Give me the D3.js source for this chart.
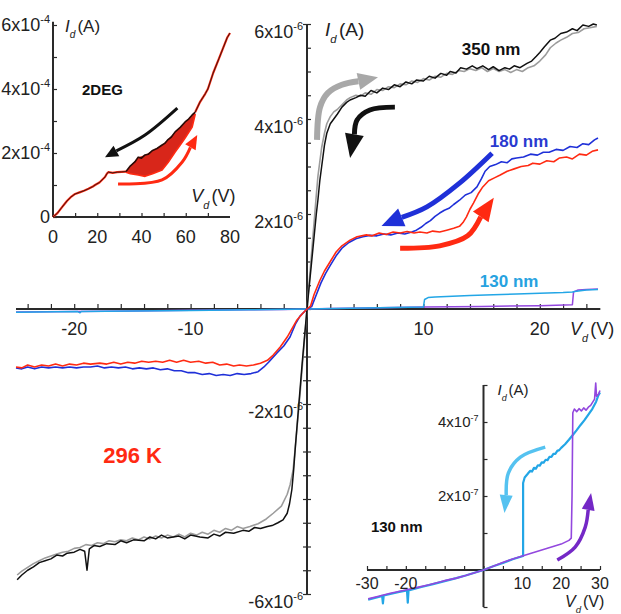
<!DOCTYPE html>
<html>
<head>
<meta charset="utf-8">
<script src="https://cdn.jsdelivr.net/npm/d3@7"></script>
<style>
  html, body { margin: 0; padding: 0; background: #fff; }
  svg { display: block; font-family: "Liberation Sans", Arial, sans-serif; }
</style>
</head>
<body>
<svg id="chart" width="621" height="614"></svg>
<script>
/* ===== Data: main panel (V in volts, I in units of 1e-6 A) ===== */
const black350Pos = [[0,0],[0.2,0.5],[0.4,1.0],[0.6,1.5],[0.8,2.0],[0.94,2.3],[1.1,2.7],[1.26,3.0],[1.5,3.45],[1.7,3.7],[2.0,3.9],[2.3,4.0],[2.6,4.1],[3.0,4.25],[3.4,4.35],[3.7,4.4],[4.2,4.45],[4.6,4.5],[5.0,4.48],[5.5,4.6],[6.0,4.55],[6.5,4.65],[7.0,4.62],[7.5,4.72],[8.0,4.68],[8.5,4.78],[9.0,4.74],[9.4,4.82],[10,4.8],[10.5,4.9],[11,4.86],[11.5,4.96],[12,4.92],[12.3,5.0],[12.8,4.97],[13.2,5.08],[13.7,5.05],[14.2,5.12],[14.6,5.06],[15.1,5.12],[15.6,5.04],[16,5.1],[16.5,5.02],[17,5.08],[17.4,5.05],[17.8,5.12],[18.3,5.08],[18.9,5.17],[19.3,5.22],[19.7,5.32],[20,5.4],[20.4,5.52],[20.9,5.66],[21.3,5.7],[21.8,5.8],[22.3,5.83],[22.8,5.9],[23.2,5.86],[23.7,5.98],[24.2,5.95],[24.6,6.0],[24.9,5.98]];
const gray350Pos = [[0,0],[0.2,0.6],[0.4,1.2],[0.6,1.8],[0.8,2.4],[0.94,2.8],[1.1,3.1],[1.26,3.4],[1.5,3.7],[1.7,3.9],[2.0,4.05],[2.3,4.15],[2.6,4.2],[3.0,4.3],[3.4,4.4],[3.7,4.45],[4.2,4.5],[4.6,4.48],[5.0,4.55],[5.5,4.52],[6.0,4.62],[6.5,4.6],[7,4.68],[7.5,4.66],[8,4.74],[8.5,4.72],[9,4.8],[9.5,4.77],[10,4.85],[10.5,4.82],[11,4.9],[11.5,4.88],[12,4.96],[12.5,4.94],[13,5.02],[13.5,5.0],[14,5.06],[14.5,5.02],[15,5.08],[15.5,5.0],[16,5.06],[16.5,5.0],[17,5.04],[17.5,4.98],[18,5.04],[18.5,5.0],[19,5.08],[19.5,5.12],[20,5.22],[20.5,5.35],[20.9,5.5],[21.4,5.6],[21.8,5.66],[22.3,5.72],[22.8,5.8],[23.3,5.82],[23.8,5.9],[24.3,5.92],[24.9,5.95]];
const black350Neg = [[0,0],[-0.2,-0.55],[-0.4,-1.1],[-0.6,-1.7],[-0.86,-2.48],[-1.0,-2.9],[-1.15,-3.4],[-1.3,-3.8],[-1.5,-4.1],[-1.7,-4.3],[-2.06,-4.44],[-2.5,-4.5],[-3.0,-4.56],[-3.4,-4.58],[-4,-4.62],[-4.5,-4.6],[-5,-4.68],[-5.5,-4.66],[-6.3,-4.72],[-7,-4.7],[-7.5,-4.78],[-8,-4.74],[-8.5,-4.82],[-9.2,-4.8],[-10,-4.76],[-10.5,-4.84],[-11,-4.78],[-12,-4.82],[-12.5,-4.76],[-13,-4.84],[-13.5,-4.8],[-14,-4.88],[-14.9,-4.86],[-15.5,-4.92],[-16,-4.88],[-16.5,-4.96],[-17.2,-4.94],[-17.8,-5.0],[-18.3,-4.98],[-18.7,-5.05],[-18.9,-5.5],[-19.1,-5.1],[-19.5,-5.06],[-20,-5.12],[-20.6,-5.14],[-21,-5.2],[-21.5,-5.18],[-22,-5.26],[-22.5,-5.3],[-23,-5.34],[-23.5,-5.43],[-24,-5.5],[-24.5,-5.6],[-24.9,-5.7]];
const gray350Neg = [[0,0],[-0.2,-0.6],[-0.4,-1.2],[-0.6,-1.8],[-0.8,-2.34],[-1.0,-2.9],[-1.2,-3.4],[-1.45,-3.7],[-1.7,-3.9],[-2.2,-4.15],[-2.9,-4.3],[-3.5,-4.42],[-4.2,-4.52],[-4.9,-4.58],[-5.5,-4.62],[-6,-4.58],[-6.5,-4.66],[-7,-4.62],[-7.5,-4.7],[-8,-4.66],[-8.5,-4.74],[-9,-4.7],[-9.5,-4.76],[-10,-4.72],[-10.5,-4.8],[-11,-4.74],[-11.5,-4.8],[-12,-4.76],[-12.5,-4.82],[-13,-4.78],[-13.5,-4.84],[-14,-4.8],[-14.5,-4.86],[-15,-4.82],[-15.5,-4.88],[-16,-4.86],[-16.5,-4.9],[-17,-4.88],[-17.5,-4.94],[-18,-4.92],[-18.5,-4.98],[-19,-4.96],[-19.5,-5.02],[-20,-5.04],[-20.5,-5.1],[-21,-5.12],[-21.5,-5.16],[-22,-5.2],[-22.5,-5.24],[-23,-5.3],[-23.5,-5.36],[-24,-5.44],[-24.5,-5.52],[-24.9,-5.6]];

const red180Pos = [[0,0],[0.3,0.06],[0.6,0.3],[1.1,0.6],[1.5,0.8],[2,1.0],[2.5,1.2],[3,1.33],[3.7,1.45],[4.3,1.52],[5.1,1.56],[5.6,1.54],[6.2,1.6],[6.8,1.57],[7.4,1.62],[8,1.6],[8.6,1.63],[9.2,1.6],[9.7,1.62],[10.3,1.6],[10.8,1.64],[11.4,1.62],[12,1.66],[12.6,1.7],[13.1,1.74],[13.4,1.82],[13.7,1.94],[14.0,2.1],[14.3,2.23],[14.7,2.42],[15.1,2.57],[15.6,2.7],[16.1,2.76],[16.6,2.82],[17.2,2.9],[17.8,2.95],[18.4,3.0],[19,3.02],[19.4,3.07],[20,3.05],[20.6,3.12],[21.2,3.1],[21.7,3.18],[22.3,3.2],[22.8,3.16],[23.4,3.26],[24,3.24],[24.5,3.32],[25,3.35]];
const blue180Pos = [[0,0],[0.4,0.05],[0.8,0.3],[1.2,0.55],[1.6,0.75],[2,0.92],[2.5,1.12],[3,1.28],[3.6,1.4],[4.2,1.48],[4.8,1.52],[5.4,1.55],[6,1.54],[6.6,1.58],[7.2,1.56],[7.8,1.6],[8.4,1.58],[9,1.62],[9.4,1.66],[9.8,1.72],[10.2,1.8],[10.6,1.86],[11,1.95],[11.4,2.02],[11.8,2.08],[12.2,2.12],[12.6,2.2],[13.1,2.29],[13.6,2.4],[14.1,2.45],[14.6,2.57],[15,2.75],[15.3,2.9],[15.7,3.0],[16.2,3.04],[16.7,3.1],[17.2,3.08],[17.6,3.16],[18,3.18],[18.6,3.2],[19.2,3.26],[19.8,3.24],[20.3,3.3],[20.8,3.3],[21.4,3.36],[22,3.34],[22.6,3.42],[23.2,3.4],[23.7,3.48],[24.2,3.46],[24.7,3.56],[25,3.6]];
const red180Neg = [[0,0],[-0.4,-0.1],[-0.86,-0.23],[-1.3,-0.42],[-1.7,-0.59],[-2.3,-0.8],[-2.9,-0.97],[-3.4,-1.08],[-4,-1.14],[-4.6,-1.18],[-5.2,-1.2],[-5.8,-1.18],[-6.3,-1.2],[-6.9,-1.16],[-7.5,-1.18],[-8.1,-1.12],[-8.7,-1.14],[-9.3,-1.1],[-10,-1.12],[-10.6,-1.08],[-11.2,-1.12],[-11.8,-1.08],[-12.4,-1.12],[-13,-1.1],[-13.6,-1.12],[-14.2,-1.1],[-14.8,-1.14],[-15.4,-1.12],[-16,-1.16],[-16.6,-1.12],[-17.2,-1.16],[-17.8,-1.14],[-18.6,-1.16],[-19.2,-1.14],[-19.8,-1.18],[-20.4,-1.16],[-21,-1.2],[-21.6,-1.16],[-22.2,-1.2],[-22.8,-1.18],[-23.4,-1.22],[-24,-1.18],[-24.5,-1.24],[-25,-1.22]];
const blue180Neg = [[0,0],[-0.6,-0.15],[-1.0,-0.32],[-1.46,-0.59],[-2.0,-0.78],[-2.6,-0.93],[-3.3,-1.12],[-3.7,-1.22],[-4.2,-1.32],[-4.8,-1.36],[-5.4,-1.38],[-6,-1.36],[-6.6,-1.4],[-7.2,-1.38],[-7.8,-1.4],[-8.4,-1.36],[-9,-1.38],[-9.6,-1.34],[-10.2,-1.34],[-10.8,-1.3],[-11.4,-1.3],[-12,-1.26],[-12.6,-1.28],[-13.2,-1.24],[-13.8,-1.26],[-14.4,-1.24],[-15,-1.26],[-15.6,-1.22],[-16.2,-1.24],[-16.8,-1.22],[-17.4,-1.24],[-18,-1.2],[-18.6,-1.22],[-19.2,-1.22],[-19.8,-1.24],[-20.4,-1.22],[-21,-1.24],[-21.6,-1.22],[-22.2,-1.24],[-22.8,-1.22],[-23.4,-1.26],[-24,-1.22],[-24.5,-1.26],[-25,-1.24]];

const cyan130Main = [[-25,-0.07],[-19.7,-0.055],[-19.5,-0.08],[-19.4,-0.054],[-15,-0.042],[-10,-0.03],[-5,-0.016],[0,0],[5,0.02],[10,0.04],[10.1,0.2],[10.4,0.24],[11,0.255],[12,0.265],[14,0.285],[16,0.3],[18,0.315],[20,0.33],[22,0.345],[22.8,0.36],[23,0.37],[24,0.4],[25,0.41]];
const purple130Main = [[-25,-0.065],[-20,-0.053],[-15,-0.04],[-10,-0.028],[-5,-0.015],[-2,-0.01],[0,0],[2,0.008],[5,0.02],[10,0.04],[15,0.055],[20,0.07],[22.8,0.09],[22.9,0.36],[23.3,0.4],[24,0.41],[25,0.42]];

/* ===== Data: 2DEG inset (V, I in units of 1e-4 A) ===== */
const deg2Low = [[0,0],[2,0.12],[4,0.3],[6.3,0.5],[8,0.62],[10,0.72],[12,0.77],[14,0.82],[16,0.88],[18,0.95],[19,1.0],[21,1.08],[23.5,1.25],[24.4,1.36],[25,1.4],[27,1.38],[29,1.4],[31,1.41],[33,1.42]];
const deg2High = [[64.3,3.28],[66.5,3.6],[68.8,3.85],[70,4.0],[72.4,4.5],[75,4.95],[77,5.3],[78.7,5.6],[80,5.75]];
const deg2Up = [[33,1.4],[35,1.35],[38.5,1.31],[41.6,1.27],[45,1.35],[49.3,1.47],[52,1.7],[55.2,2.03],[57.5,2.25],[59.7,2.47],[62.9,2.81],[64.3,3.22]];
const deg2Down = [[33,1.42],[35,1.6],[37,1.72],[38.5,1.87],[40,1.84],[41.6,1.94],[43,1.96],[45,2.08],[47,2.14],[49.3,2.25],[50.5,2.3],[52,2.42],[53.5,2.5],[55.2,2.66],[57.5,2.8],[59.7,2.97],[61.3,3.06],[62.9,3.19],[64.3,3.28]];

/* ===== Data: 130 nm inset (V, I in units of 1e-7 A) ===== */
const purpleInset = [[-29.7,-0.78],[-27,-0.71],[-24,-0.63],[-20,-0.54],[-17,-0.47],[-14,-0.4],[-11,-0.32],[-9.7,-0.28],[-7,-0.22],[-4.6,-0.15],[-2.5,-0.08],[0,0],[2.5,0.1],[4.9,0.2],[7.5,0.3],[10,0.38],[12.5,0.46],[15,0.54],[17.5,0.62],[20,0.7],[22,0.8],[22.6,0.86],[22.8,2.0],[23.0,4.25],[23.4,4.35],[24,4.28],[24.6,4.36],[25.2,4.3],[25.8,4.38],[26.4,4.32],[27,4.4],[27.6,4.45],[28.2,4.55],[28.6,4.62],[28.9,5.05],[29.1,4.7],[29.6,4.75],[30,4.85]];
const cyanInset = [[-29.7,-0.8],[-27,-0.73],[-26.1,-0.7],[-25.9,-0.9],[-25.7,-0.69],[-22,-0.6],[-19.7,-0.55],[-19.5,-0.88],[-19.3,-0.55],[-16,-0.46],[-13,-0.38],[-10,-0.3],[-7,-0.22],[-4.6,-0.15],[-2.5,-0.08],[0,0],[2.5,0.1],[5,0.19],[7.5,0.29],[10.2,0.38],[10.2,2.35],[10.6,2.5],[11.4,2.6],[12,2.68],[12.5,2.66],[13,2.76],[13.5,2.74],[14,2.83],[14.5,2.82],[15,2.91],[15.5,2.9],[16,2.98],[16.5,2.97],[17,3.06],[17.5,3.06],[18,3.14],[18.5,3.14],[19,3.22],[19.5,3.24],[20,3.3],[21,3.4],[22,3.52],[23,3.65],[24,3.78],[25,3.92],[26,4.05],[27,4.2],[28,4.35],[29,4.55],[29.5,4.7],[30,4.8]];

/* ===== Ticks & labels ===== */
const mainXLabels = [-20, -10, 10, 20];
const mainYLabels = [6, 4, 2, -2, -6];
const degXLabels = [0, 20, 40, 60, 80];
const degYLabels = [0, 2, 4, 6];
const insetXLabels = [-30, -20, 10, 20, 30];
const insetYLabels = [2, 4];

/* ===== Annotations (data coordinates of each panel) ===== */
const arrowGray350 = [[0.86,3.56],[1.12,4.25],[1.8,4.55],[3.0,4.72],[6.1,4.88]];
const arrowBlack350 = [[7.55,4.25],[5.4,4.19],[4.3,3.98],[3.7,3.18]];
const arrowBlue180 = [[15.9,3.28],[13.1,2.65],[10.3,2.15],[6.4,1.75]];
const arrowRed180 = [[8.0,1.28],[11.4,1.33],[13.8,1.54],[16.05,2.34]];
const arrowDegBlack = [[56.2,3.4],[41.6,2.56],[23.5,1.87]];
const arrowDegRed = [[29.4,1.03],[49.3,1.16],[58.4,1.72],[65.2,2.56]];
const arrowInsetCyan = [[15.9,3.32],[9.5,3.05],[6.4,2.62],[5.4,1.54]];
const arrowInsetPurple = [[19,0.27],[23.6,0.62],[26.2,1.16],[27.7,2.08]];

const C = {
  black: "#111", gray: "#9c9c9c", red: "#ff2a12", blue: "#1f30d8",
  cyan: "#23a6e6", purple: "#9347de", grayArrow: "#a8a8a8",
  cyanArrow: "#55c2f0", purpleArrow: "#7428c6", axis: "#2a2a2a"
};

const svg = d3.select("#chart");

/* ===== helpers ===== */
function drawLine(g, sx, sy, data, color, w) {
  g.append("path")
    .attr("d", d3.line().x(d => sx(d[0])).y(d => sy(d[1]))(data))
    .attr("fill", "none").attr("stroke", color)
    .attr("stroke-width", w).attr("stroke-linejoin", "round");
}

function drawArrow(g, sx, sy, data, color, w, hl, hw) {
  const pts = data.map(d => [sx(d[0]), sy(d[1])]);
  const n = pts.length;
  const tip = pts[n - 1], prev = pts[n - 2];
  const dx = tip[0] - prev[0], dy = tip[1] - prev[1];
  const L = Math.hypot(dx, dy), ux = dx / L, uy = dy / L;
  const base = [tip[0] - ux * hl, tip[1] - uy * hl];
  const shaft = pts.slice(0, n - 1).concat([base]);
  g.append("path")
    .attr("d", d3.line().curve(d3.curveCatmullRom)(shaft))
    .attr("fill", "none").attr("stroke", color).attr("stroke-width", w);
  g.append("path")
    .attr("d", `M${tip[0]},${tip[1]}L${base[0] - uy * hw / 2},${base[1] + ux * hw / 2}L${base[0] + uy * hw / 2},${base[1] - ux * hw / 2}Z`)
    .attr("fill", color);
}

function expLabels(g, data, xPos, yPos, size, expSize, exp, anchor) {
  g.selectAll(null).data(data).join("text")
    .attr("x", xPos).attr("y", yPos)
    .attr("text-anchor", anchor)
    .attr("font-size", size).attr("fill", "#222")
    .each(function (d) {
      const t = d3.select(this);
      if (d === 0) { t.text("0"); return; }
      t.append("tspan").text(d + "x10");
      t.append("tspan").attr("font-size", expSize).attr("dy", -size * 0.42).text(exp);
    });
}

function axisName(g, x, y, letter, size, unit) {
  const t = g.append("text").attr("x", x).attr("y", y)
    .attr("font-size", size).attr("fill", "#222");
  t.append("tspan").attr("font-style", "italic").text(letter);
  t.append("tspan").attr("font-style", "italic").attr("font-size", size * 0.6)
    .attr("dy", size * 0.38).text("d");
  t.append("tspan").attr("dy", -size * 0.38).attr("dx", size * 0.12).text("(" + unit + ")");
}

function tickAxis(g, axis, tx, ty) {
  const a = g.append("g").attr("transform", `translate(${tx},${ty})`).call(axis);
  a.select(".domain").remove();
  a.selectAll(".tick line").attr("stroke", C.axis).attr("stroke-width", 1.2);
  return a;
}

/* ===== Main panel ===== */
const x = d3.scaleLinear().domain([-25, 25]).range([16, 598]);
const y = d3.scaleLinear().domain([-6, 6]).range([594, 24]);
const main = svg.append("g");

// ticks
tickAxis(main, d3.axisTop(x).tickValues(d3.range(-24, 25, 2)).tickSize(5).tickFormat(""), 0, y(0));
tickAxis(main, d3.axisRight(y).tickValues(d3.range(-6, 6.01, 0.5)).tickSize(4).tickFormat(""), x(0), 0);
tickAxis(main, d3.axisLeft(y).tickValues([6, ...d3.range(-6, 0, 0.5)]).tickSize(4).tickFormat(""), x(0), 0);

// axis lines
main.append("line").attr("x1", x(-25)).attr("x2", x(25.2)).attr("y1", y(0)).attr("y2", y(0))
  .attr("stroke", C.axis).attr("stroke-width", 2);
main.append("line").attr("x1", x(0)).attr("x2", x(0)).attr("y1", y(6)).attr("y2", y(-6))
  .attr("stroke", C.axis).attr("stroke-width", 2);

// curves
drawLine(main, x, y, gray350Pos, C.gray, 1.6);
drawLine(main, x, y, black350Pos, C.black, 1.5);
drawLine(main, x, y, gray350Neg, C.gray, 1.6);
drawLine(main, x, y, black350Neg, C.black, 1.5);
drawLine(main, x, y, purple130Main, C.purple, 1.5);
drawLine(main, x, y, cyan130Main, C.cyan, 1.5);
drawLine(main, x, y, blue180Neg, C.blue, 1.6);
drawLine(main, x, y, red180Neg, C.red, 1.6);
drawLine(main, x, y, blue180Pos, C.blue, 1.6);
drawLine(main, x, y, red180Pos, C.red, 1.6);

// tick labels
main.selectAll(null).data(mainXLabels).join("text")
  .attr("x", d => x(d)).attr("y", y(0) + 26)
  .attr("text-anchor", "middle").attr("font-size", 18).attr("fill", "#222")
  .text(d => d);
expLabels(main, mainYLabels, x(0) - 4, d => y(d) + 14, 18, 11, "-6", "end");
axisName(main, x(0) + 18, 36, "I", 19, "A");
axisName(main, x(22.6), y(0) + 26, "V", 18, "V");

// arrows
drawArrow(main, x, y, arrowGray350, C.grayArrow, 6, 20, 17);
drawArrow(main, x, y, arrowBlack350, C.black, 5, 24, 19);
drawArrow(main, x, y, arrowBlue180, C.blue, 5, 22, 19);
drawArrow(main, x, y, arrowRed180, C.red, 5, 23, 19);

// annotations
main.append("text").attr("x", x(13.3)).attr("y", y(5.35)).attr("font-size", 17)
  .attr("font-weight", "bold").attr("fill", "#111").text("350 nm");
main.append("text").attr("x", x(15.7)).attr("y", y(3.41)).attr("font-size", 17)
  .attr("font-weight", "bold").attr("fill", "#2a3ad0").text("180 nm");
main.append("text").attr("x", x(14.85)).attr("y", y(0.46)).attr("font-size", 17)
  .attr("font-weight", "bold").attr("fill", "#27a2e0").text("130 nm");
main.append("text").attr("x", x(-17.5)).attr("y", y(-3.24)).attr("font-size", 22)
  .attr("font-weight", "bold").attr("fill", C.red).text("296 K");

/* ===== 2DEG inset (top-left) ===== */
const xd = d3.scaleLinear().domain([0, 80]).range([53, 230]);
const yd = d3.scaleLinear().domain([0, 6]).range([217, 25]);
const deg = svg.append("g");

tickAxis(deg, d3.axisRight(yd).tickValues(d3.range(0, 6.01, 1)).tickSize(4).tickFormat(""), xd(0), 0);
tickAxis(deg, d3.axisTop(xd).tickValues(d3.range(10, 80, 10)).tickSize(4).tickFormat(""), 0, yd(0));
deg.append("line").attr("x1", xd(0)).attr("x2", xd(80)).attr("y1", yd(0)).attr("y2", yd(0))
  .attr("stroke", C.axis).attr("stroke-width", 2);
deg.append("line").attr("x1", xd(0)).attr("x2", xd(0)).attr("y1", yd(0)).attr("y2", yd(6.1))
  .attr("stroke", C.axis).attr("stroke-width", 2);

// hysteresis band between the two sweeps
const downAt = d3.scaleLinear().domain(deg2Down.map(e => e[0])).range(deg2Down.map(e => e[1]));
deg.append("path")
  .attr("d", d3.area().x(d => xd(d[0])).y0(d => yd(d[1])).y1(d => yd(downAt(d[0])))(deg2Up))
  .attr("fill", "#d8261a");
drawLine(deg, xd, yd, deg2Up, C.red, 1.6);
drawLine(deg, xd, yd, deg2Down, "#2a0a06", 1.6);
drawLine(deg, xd, yd, deg2Low, C.red, 2.2);
drawLine(deg, xd, yd, deg2Low, C.black, 0.8);
drawLine(deg, xd, yd, deg2High, C.red, 2.2);
drawLine(deg, xd, yd, deg2High, C.black, 0.8);

deg.selectAll(null).data(degXLabels).join("text")
  .attr("x", d => xd(d)).attr("y", yd(0) + 26)
  .attr("text-anchor", "middle").attr("font-size", 18).attr("fill", "#222")
  .text(d => d);
expLabels(deg, degYLabels, xd(0) - 3, d => yd(d) + 6, 18, 11, "-4", "end");
axisName(deg, xd(5.4), 32, "I", 17, "A");
axisName(deg, xd(62.5), 202, "V", 18, "V");

drawArrow(deg, xd, yd, arrowDegBlack, C.black, 3, 13, 12);
drawArrow(deg, xd, yd, arrowDegRed, C.red, 3, 14, 12);
deg.append("text").attr("x", xd(13.1)).attr("y", yd(3.81)).attr("font-size", 15)
  .attr("font-weight", "bold").attr("fill", "#111").text("2DEG");

/* ===== 130 nm inset (bottom-right) ===== */
const xb = d3.scaleLinear().domain([-30, 30]).range([367, 600]);
const yb = d3.scaleLinear().domain([-1, 5]).range([607, 385]);
const ins = svg.append("g");

tickAxis(ins, d3.axisRight(yb).tickValues(d3.range(-1, 5.01, 1)).tickSize(4).tickFormat(""), xb(0), 0);
tickAxis(ins, d3.axisTop(xb).tickValues(d3.range(-30, 31, 5)).tickSize(4).tickFormat(""), 0, yb(0));
ins.append("line").attr("x1", xb(-30)).attr("x2", xb(30)).attr("y1", yb(0)).attr("y2", yb(0))
  .attr("stroke", C.axis).attr("stroke-width", 2);
ins.append("line").attr("x1", xb(0)).attr("x2", xb(0)).attr("y1", yb(-1)).attr("y2", yb(5))
  .attr("stroke", C.axis).attr("stroke-width", 2);

drawLine(ins, xb, yb, cyanInset, C.cyan, 2.2);
drawLine(ins, xb, yb, purpleInset, C.purple, 1.6);

ins.selectAll(null).data(insetXLabels).join("text")
  .attr("x", d => xb(d)).attr("y", yb(0) + 19)
  .attr("text-anchor", "middle").attr("font-size", 16).attr("fill", "#222")
  .text(d => d);
expLabels(ins, insetYLabels, xb(0) - 5, d => yb(d) + 5, 15, 9, "-7", "end");
axisName(ins, xb(3.6), 395, "I", 15, "A");
axisName(ins, xb(21), 607, "V", 16, "V");

drawArrow(ins, xb, yb, arrowInsetCyan, C.cyanArrow, 3.5, 18, 13);
drawArrow(ins, xb, yb, arrowInsetPurple, C.purpleArrow, 3.5, 17, 13);
ins.append("text").attr("x", xb(-29)).attr("y", yb(1.03)).attr("font-size", 15)
  .attr("font-weight", "bold").attr("fill", "#111").text("130 nm");
</script>
</body>
</html>
